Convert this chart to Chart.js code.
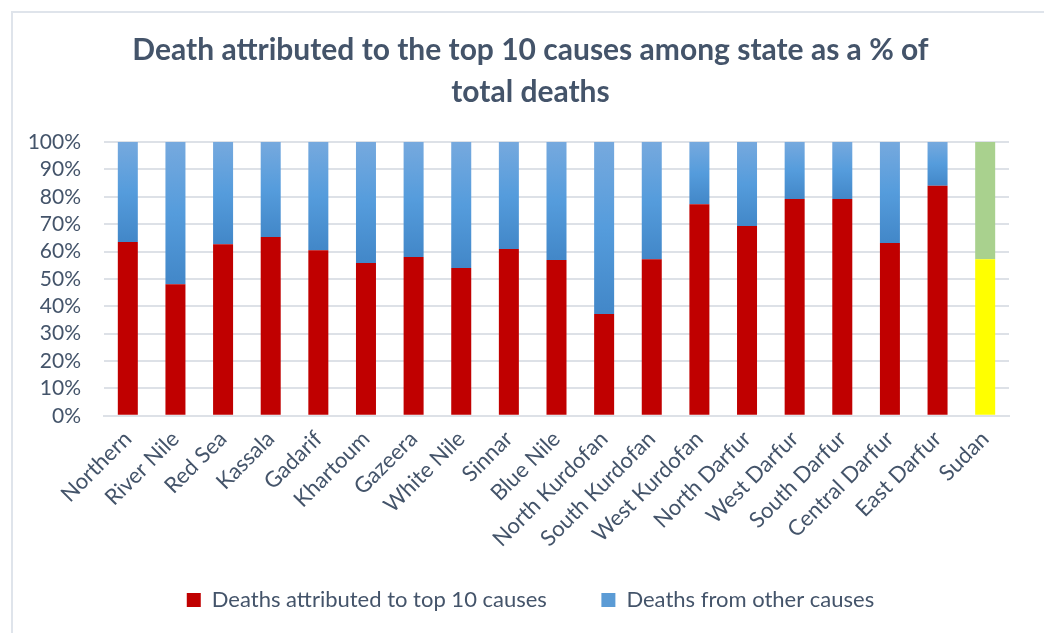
<!DOCTYPE html>
<html>
<head>
<meta charset="utf-8">
<script src="https://cdn.jsdelivr.net/npm/chart.js@4.4.1/dist/chart.umd.min.js"></script>
<style>
  html, body { margin: 0; padding: 0; background: #fff; overflow: hidden; }
  #wrap {
    position: absolute; left: 11px; top: 11px; width: 1033px; height: 622px;
    border-left: 2px solid #DFE4EB; border-top: 2px solid #DFE4EB; box-sizing: border-box;
  }
</style>
</head>
<body>
<div id="wrap"><canvas id="chart"></canvas></div>
<script>
// Data
const states = ['Northern', 'River Nile', 'Red Sea', 'Kassala', 'Gadarif', 'Khartoum', 'Gazeera',
  'White Nile', 'Sinnar', 'Blue Nile', 'North Kurdofan', 'South Kurdofan', 'West Kurdofan',
  'North Darfur', 'West Darfur', 'South Darfur', 'Central Darfur', 'East Darfur', 'Sudan'];
const top10Pct = [63.5, 48.1, 62.7, 65.3, 60.5, 55.8, 58.0, 54.0, 60.9, 56.9, 37.2, 57.2, 77.3,
  69.3, 79.2, 79.2, 63.1, 84.0, 57.2];
const otherPct = top10Pct.map(v => 100 - v);
const yTicks = [0, 10, 20, 30, 40, 50, 60, 70, 80, 90, 100];

const textColor = '#44546A';
const gridColor = '#DDE1E7';
const lastIdx = states.length - 1;

// blue segments get a vertical gradient, light at the top
function blueFill(ctx) {
  const chart = ctx.chart;
  const i = ctx.dataIndex;
  if (i === lastIdx) return '#A9D18E';
  const y = chart.scales.y;
  if (!chart.chartArea || !y) return '#5B9BD5';
  const top = y.getPixelForValue(100);
  const bottom = y.getPixelForValue(top10Pct[i]);
  const g = chart.ctx.createLinearGradient(0, top, 0, bottom);
  g.addColorStop(0, '#76A9DE');
  g.addColorStop(0.5, '#559CDC');
  g.addColorStop(1, '#4287C8');
  return g;
}

new Chart(document.getElementById('chart'), {
  type: 'bar',
  data: {
    labels: states,
    datasets: [
      {
        label: 'Deaths attributed to top 10 causes',
        data: top10Pct,
        backgroundColor: states.map((s, i) => i === lastIdx ? '#FFFF00' : '#C00000'),
        barPercentage: 0.42,
        categoryPercentage: 1.0
      },
      {
        label: 'Deaths from other causes',
        data: otherPct,
        backgroundColor: blueFill,
        barPercentage: 0.42,
        categoryPercentage: 1.0
      }
    ]
  },
  options: {
    responsive: true,
    maintainAspectRatio: false,
    animation: false,
    layout: { padding: { left: 9, right: 5, top: 16, bottom: 12 } },
    plugins: {
      title: {
        display: true,
        text: ['Death attributed to the top 10 causes among state as a % of', 'total deaths'],
        color: textColor,
        font: { family: 'Lato', size: 30, weight: 'bold', lineHeight: 1.4 },
        padding: { top: 0, bottom: 29 }
      },
      legend: {
        position: 'bottom',
        labels: {
          color: textColor,
          font: { family: 'Lato', size: 22 },
          boxWidth: 14,
          boxHeight: 14,
          padding: 27,
          // trailing spaces widen the gap between the two entries
          generateLabels: chart => [
            { text: 'Deaths attributed to top 10 causes\u2003\u2002', fillStyle: '#C00000', strokeStyle: '#C00000', lineWidth: 0, datasetIndex: 0, fontColor: textColor },
            { text: 'Deaths from other causes', fillStyle: '#5B9BD5', strokeStyle: '#5B9BD5', lineWidth: 0, datasetIndex: 1, fontColor: textColor }
          ]
        }
      },
      tooltip: { enabled: false }
    },
    scales: {
      x: {
        stacked: true,
        grid: { display: false, drawTicks: false },
        border: { color: gridColor, width: 2 },
        ticks: {
          color: textColor,
          font: { family: 'Lato', size: 22 },
          maxRotation: 45,
          minRotation: 45,
          padding: 10,
          autoSkip: false
        }
      },
      y: {
        stacked: true,
        min: 0,
        max: 100,
        afterBuildTicks: axis => { axis.ticks = yTicks.map(v => ({ value: v })); },
        afterFit: axis => { axis.width = 82; },
        grid: { color: gridColor, lineWidth: 2, drawTicks: false },
        border: { display: false },
        ticks: {
          color: textColor,
          font: { family: 'Lato', size: 21 },
          padding: 23,
          autoSkip: false,
          callback: v => v + '%'
        }
      },
      // empty spacer on the right so the plot ends where the reference does
      spacer: {
        position: 'right',
        display: true,
        grid: { display: false, drawTicks: false },
        border: { display: false },
        ticks: { display: false },
        afterFit: axis => { axis.width = 30; }
      }
    }
  }
});
</script>
</body>
</html>
